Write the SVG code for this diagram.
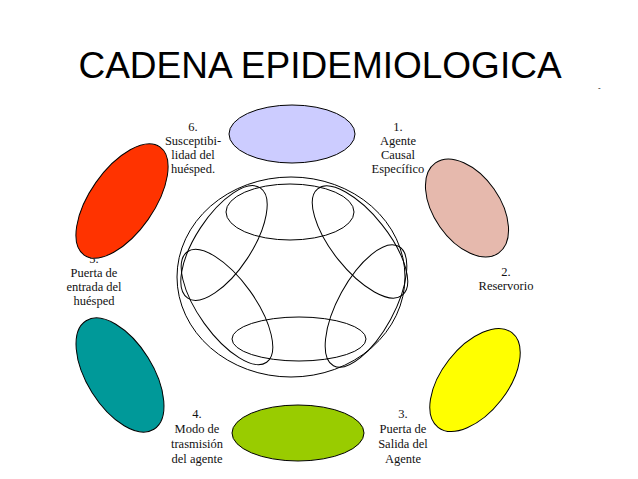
<svg xmlns="http://www.w3.org/2000/svg" width="638" height="479" viewBox="0 0 638 479">
<style>
.lb{font-family:"Liberation Serif",serif;font-size:12.5px;text-anchor:middle;fill:#111}
.n{stroke:#000;stroke-width:1}
.o{fill:none;stroke:#000;stroke-width:1}
</style>
<rect width="638" height="479" fill="#fff"/>
<text x="320" y="78" font-family="Liberation Sans,sans-serif" font-size="37" text-anchor="middle" fill="#000">CADENA EPIDEMIOLOGICA</text>
<text x="598" y="90" font-family="Liberation Sans,sans-serif" font-size="8">-</text>
<g id="connectors">
<ellipse class="o" cx="291" cy="277" rx="114" ry="100"/>
<ellipse class="o" cx="290" cy="212" rx="64" ry="28"/>
<ellipse class="o" cx="299" cy="339" rx="67" ry="22"/>
<ellipse class="o" cx="360" cy="242" rx="68" ry="28" transform="rotate(51.5 360 242)"/>
<ellipse class="o" cx="366" cy="306" rx="68" ry="28" transform="rotate(118.6 366 306)"/>
<ellipse class="o" cx="227" cy="307" rx="68" ry="28" transform="rotate(54.3 227 307)"/>
<ellipse class="o" cx="224" cy="243" rx="66" ry="28" transform="rotate(-56.7 224 243)"/>
</g>
<g id="labels">
<text class="lb" x="193" y="131">6.<tspan x="193" dy="14">Susceptibi-</tspan><tspan x="193" dy="14">lidad del</tspan><tspan x="193" dy="14">huésped.</tspan></text>
<text class="lb" x="398" y="131">1.<tspan x="398" dy="14">Agente</tspan><tspan x="398" dy="14">Causal</tspan><tspan x="398" dy="14">Específico</tspan></text>
<text class="lb" x="94" y="263">5.<tspan x="94" dy="14">Puerta de</tspan><tspan x="94" dy="14">entrada del</tspan><tspan x="94" dy="14">huésped</tspan></text>
<text class="lb" x="506" y="276">2.<tspan x="506" dy="14">Reservorio</tspan></text>
<text class="lb" x="197" y="418">4.<tspan x="197" dy="15">Modo de</tspan><tspan x="197" dy="15">trasmisión</tspan><tspan x="197" dy="15">del agente</tspan></text>
<text class="lb" x="403" y="418">3.<tspan x="403" dy="15">Puerta de</tspan><tspan x="403" dy="15">Salida del</tspan><tspan x="403" dy="15">Agente</tspan></text>
</g>
<g id="n6"><ellipse class="n" cx="292" cy="134" rx="63" ry="29" fill="#ccccff"/></g>
<g id="n1"><ellipse class="n" cx="467" cy="208" rx="33" ry="55" transform="rotate(-35 467 208)" fill="#e6b9ad"/></g>
<g id="n2"><ellipse class="n" cx="475" cy="380" rx="33" ry="60" transform="rotate(38 475 380)" fill="#ffff00"/></g>
<g id="n4"><ellipse class="n" cx="298" cy="433" rx="66" ry="28" fill="#99cc00"/></g>
<g id="n5"><ellipse class="n" cx="120" cy="375" rx="33" ry="64" transform="rotate(-32 120 375)" fill="#009999"/></g>
<g id="n3"><ellipse class="n" cx="122" cy="201" rx="32" ry="66" transform="rotate(35 122 201)" fill="#ff3300"/></g>
</svg>
